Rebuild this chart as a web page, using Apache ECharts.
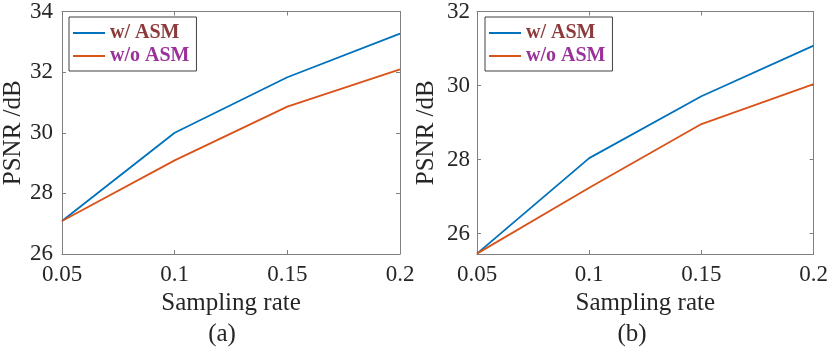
<!DOCTYPE html>
<html>
<head>
<meta charset="utf-8">
<script src="https://cdn.jsdelivr.net/npm/echarts@6/dist/echarts.min.js"></script>
<style>
  html, body { margin: 0; padding: 0; background: #fff; }
  #chart { width: 831px; height: 348px; }
</style>
</head>
<body>
<div id="chart"></div>
<script>
// 采样率 (x 轴)
const rates = [0.05, 0.1, 0.15, 0.2]
const xTicks = [0.05, 0.1, 0.15, 0.2]

// (a) PSNR
const psnrAWith = [27.09, 30.0, 31.83, 33.27]
const psnrAWithout = [27.09, 29.09, 30.86, 32.09]
const yTicksA = [26, 28, 30, 32, 34]

// (b) PSNR
const psnrBWith = [25.46, 28.04, 29.71, 31.08]
const psnrBWithout = [25.46, 27.24, 28.96, 30.04]
const yTicksB = [26, 28, 30, 32]

const names = ['w/ ASM', 'w/o ASM']
const lineColors = ['#0072BD', '#D95319']
const nameColors = ['#8B3B3B', '#993399']

const FONT = 'Liberation Serif'
const AXIS_GRAY = '#808080'
const TEXT = '#262626'

const chart = echarts.init(document.getElementById('chart'))

const toPairs = (ys) => rates.map((x, i) => [x, ys[i]])

// 刻度标签统一用 rich 样式，保证衬线字体
const tickRich = { t: { fontFamily: FONT, fontSize: 23, color: TEXT } }

const makeX = (grid, top) => ({
  type: 'value',
  gridIndex: grid,
  position: top ? 'top' : 'bottom',
  min: 0.05,
  max: 0.2,
  name: top ? '' : 'Sampling rate',
  nameLocation: 'middle',
  nameGap: 36,
  nameTextStyle: { fontFamily: FONT, fontSize: 25, color: TEXT },
  axisLine: { show: true, onZero: false, lineStyle: { color: AXIS_GRAY, width: 1 } },
  axisTick: { show: true, inside: true, length: 4, customValues: xTicks, lineStyle: { color: AXIS_GRAY } },
  axisLabel: {
    show: !top,
    customValues: xTicks,
    margin: 9,
    fontFamily: FONT,
    fontSize: 23,
    color: TEXT,
    rich: tickRich,
    formatter: (v) => '{t|' + String(+v.toFixed(2)) + '}'
  },
  splitLine: { show: false }
})

const makeY = (grid, right, min, max, ticks, gap, margin) => ({
  type: 'value',
  gridIndex: grid,
  position: right ? 'right' : 'left',
  min: min,
  max: max,
  name: right ? '' : 'PSNR /dB',
  nameLocation: 'middle',
  nameRotate: 90,
  nameGap: gap,
  nameTextStyle: { fontFamily: FONT, fontSize: 25, color: TEXT },
  axisLine: { show: true, onZero: false, lineStyle: { color: AXIS_GRAY, width: 1 } },
  axisTick: { show: true, inside: true, length: 4, customValues: ticks, lineStyle: { color: AXIS_GRAY } },
  axisLabel: {
    show: !right,
    customValues: ticks,
    margin: margin,
    fontFamily: FONT,
    fontSize: 23,
    color: TEXT,
    rich: tickRich,
    formatter: (v) => '{t|' + String(Math.round(v)) + '}'
  },
  splitLine: { show: false }
})

const makeLegend = (left) => ({
  orient: 'vertical',
  left: left,
  top: 17,
  padding: [6, 7, 5, 4],
  itemGap: 3,
  itemWidth: 32,
  itemHeight: 2,
  itemTextGap: 8,
  icon: 'rect',
  borderColor: '#404040',
  borderWidth: 1,
  backgroundColor: '#fff',
  selectedMode: false,
  textStyle: { fontFamily: FONT, fontSize: 20, fontWeight: 'bold' },
  data: names.map((n, i) => ({ name: n, textStyle: { color: nameColors[i] } }))
})

const makeSeries = (name, ys, color, xi, yi) => ({
  name: name,
  type: 'line',
  xAxisIndex: xi,
  yAxisIndex: yi,
  data: toPairs(ys),
  symbol: 'none',
  lineStyle: { color: color, width: 1.8 },
  itemStyle: { color: color }
})

const option = {
  animation: false,
  textStyle: { fontFamily: FONT },
  grid: [
    { left: 62, top: 9.5, width: 338, height: 244.5 },
    { left: 477, top: 9.5, width: 339, height: 244.5 }
  ],
  xAxis: [makeX(0, false), makeX(0, true), makeX(1, false), makeX(1, true)],
  yAxis: [
    makeY(0, false, 26, 34, yTicksA, 35, 9),
    makeY(0, true, 26, 34, yTicksA, 35, 9),
    makeY(1, false, 25.45, 32, yTicksB, 38, 7),
    makeY(1, true, 25.45, 32, yTicksB, 38, 7)
  ],
  legend: [makeLegend(69), makeLegend(485)],
  series: [
    makeSeries(names[0], psnrAWith, lineColors[0], 0, 0),
    makeSeries(names[1], psnrAWithout, lineColors[1], 0, 0),
    makeSeries(names[0], psnrBWith, lineColors[0], 2, 2),
    makeSeries(names[1], psnrBWithout, lineColors[1], 2, 2)
  ],
  graphic: [
    { type: 'text', x: 222, y: 334, style: { text: '(a)', fontFamily: FONT, fontSize: 25, fill: TEXT, align: 'center', verticalAlign: 'middle' } },
    { type: 'text', x: 632, y: 334, style: { text: '(b)', fontFamily: FONT, fontSize: 25, fill: TEXT, align: 'center', verticalAlign: 'middle' } }
  ]
}

chart.setOption(option)
</script>
</body>
</html>
